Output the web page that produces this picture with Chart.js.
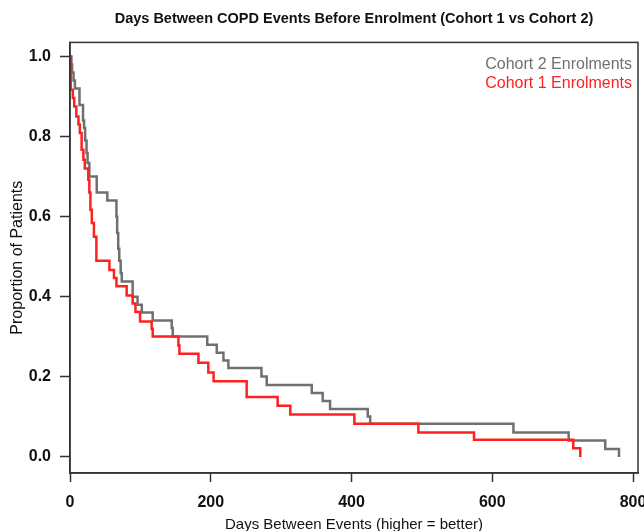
<!DOCTYPE html>
<html>
<head>
<meta charset="utf-8">
<script src="https://cdn.jsdelivr.net/npm/chart.js@4.4.1/dist/chart.umd.min.js"></script>
<style>
  html, body { margin: 0; padding: 0; background: #fff; }
</style>
</head>
<body>
<canvas id="km" width="644" height="531"></canvas>
<script>
// step curves (day of drop, proportion after the drop)
const cohort1Days = [0, 1, 4, 6, 9, 12, 14, 16.5, 19, 21, 26, 27.5, 29, 31, 34, 37.5, 56, 62.5, 66, 80.5, 89, 93, 99.5, 116, 117.5, 154, 155.5, 182.5, 196.5, 204, 251, 295, 313, 404, 495, 574, 715, 725];
const cohort1Surv = [1.0, 0.917, 0.896, 0.875, 0.85, 0.83, 0.809, 0.767, 0.742, 0.72, 0.692, 0.66, 0.617, 0.584, 0.55, 0.49, 0.467, 0.447, 0.426, 0.403, 0.383, 0.362, 0.338, 0.32, 0.301, 0.278, 0.258, 0.235, 0.211, 0.189, 0.15, 0.128, 0.106, 0.083, 0.061, 0.043, 0.022, 0.0];

const cohort2Days = [0, 2, 3, 5, 7, 13.5, 18.5, 20, 21.5, 23.5, 25, 27.5, 38, 53, 66, 67, 68.5, 70, 72, 73.5, 89, 96, 102, 117.5, 144.5, 146, 195, 208.5, 218, 225, 272, 279.5, 343.5, 359, 369.5, 423, 426.5, 630, 708.5, 760.5, 780];
const cohort2Surv = [1.0, 0.98, 0.96, 0.94, 0.92, 0.879, 0.84, 0.821, 0.79, 0.759, 0.734, 0.70, 0.66, 0.64, 0.60, 0.559, 0.52, 0.49, 0.459, 0.438, 0.40, 0.38, 0.361, 0.341, 0.322, 0.301, 0.28, 0.26, 0.241, 0.222, 0.201, 0.18, 0.16, 0.14, 0.12, 0.101, 0.083, 0.061, 0.041, 0.02, 0.0];

const xTicks = [0, 200, 400, 600, 800];
const yTicks = [0, 0.2, 0.4, 0.6, 0.8, 1.0];

const FONT = '"Liberation Sans", Arial, sans-serif';
const INK = '#111111';
const AXIS = '#333333';

const toPoints = (days, surv) => days.map((d, i) => ({ x: d, y: surv[i] }));

// box round the plot region, like R's box()
const frame = {
  id: 'frame',
  afterDatasetsDraw(chart) {
    const { ctx, chartArea: a } = chart;
    ctx.save();
    ctx.strokeStyle = AXIS;
    ctx.lineWidth = 1.5;
    ctx.strokeRect(a.left, a.top, a.right - a.left, a.bottom - a.top);
    ctx.restore();
  }
};

// text-only legend in the top right corner, cohort 2 listed first
const cornerLegend = {
  id: 'cornerLegend',
  afterDraw(chart) {
    const { ctx, chartArea: a } = chart;
    ctx.save();
    ctx.font = '16px ' + FONT;
    ctx.textAlign = 'right';
    ctx.textBaseline = 'middle';
    [1, 0].forEach((idx, row) => {
      const ds = chart.data.datasets[idx];
      ctx.fillStyle = ds.borderColor;
      ctx.fillText(ds.label, a.right - 6, a.top + 22 + row * 19);
    });
    ctx.restore();
  }
};

new Chart(document.getElementById('km'), {
  type: 'line',
  data: {
    datasets: [
      {
        label: 'Cohort 1 Enrolments',
        data: toPoints(cohort1Days, cohort1Surv),
        borderColor: '#ff2020',
        borderWidth: 2.5,
        stepped: true,
        pointRadius: 0,
        fill: false,
      },
      {
        label: 'Cohort 2 Enrolments',
        data: toPoints(cohort2Days, cohort2Surv),
        borderColor: '#707070',
        borderWidth: 2.5,
        stepped: true,
        pointRadius: 0,
        fill: false,
      },
    ],
  },
  options: {
    responsive: false,
    animation: false,
    devicePixelRatio: 1,
    layout: { padding: { top: 0, right: 6, bottom: 0, left: 0 } },
    plugins: {
      legend: { display: false },
      tooltip: { enabled: false },
      title: {
        display: true,
        fullSize: false,
        text: 'Days Between COPD Events Before Enrolment (Cohort 1 vs Cohort 2)',
        color: INK,
        font: { family: FONT, size: 14.5, weight: 'bold', lineHeight: 1.2 },
        padding: { top: 10, bottom: 15 },
      },
    },
    scales: {
      x: {
        type: 'linear',
        min: 0,
        max: 807,
        afterBuildTicks: s => { s.ticks = xTicks.map(v => ({ value: v })); },
        afterFit: s => { s.height = 58; s.paddingLeft = 0; s.paddingRight = 0; },
        grid: { drawOnChartArea: false, drawTicks: true, tickLength: 9, tickColor: AXIS, tickWidth: 1.5 },
        border: { display: true, color: AXIS, width: 1.5 },
        ticks: { color: INK, font: { family: FONT, size: 16, weight: 'bold' }, padding: 11, maxRotation: 0, autoSkip: false },
        title: {
          display: true,
          text: 'Days Between Events (higher = better)',
          color: INK,
          font: { family: FONT, size: 15, lineHeight: 1.2 },
          padding: { top: 0, bottom: -3 },
        },
      },
      y: {
        type: 'linear',
        min: -0.04,
        max: 1.035,
        afterBuildTicks: s => { s.ticks = yTicks.map(v => ({ value: v })); },
        afterFit: s => { s.width = 70; },
        grid: { drawOnChartArea: false, drawTicks: true, tickLength: 10, tickColor: AXIS, tickWidth: 1.5 },
        border: { display: true, color: AXIS, width: 1.5 },
        ticks: { color: INK, font: { family: FONT, size: 16, weight: 'bold' }, padding: 9, callback: v => v.toFixed(1) },
        title: {
          display: true,
          text: 'Proportion of Patients',
          color: INK,
          font: { family: FONT, size: 16, lineHeight: 1.2 },
          padding: { top: 8, bottom: 0 },
        },
      },
    },
  },
  plugins: [frame, cornerLegend],
});
</script>
</body>
</html>
